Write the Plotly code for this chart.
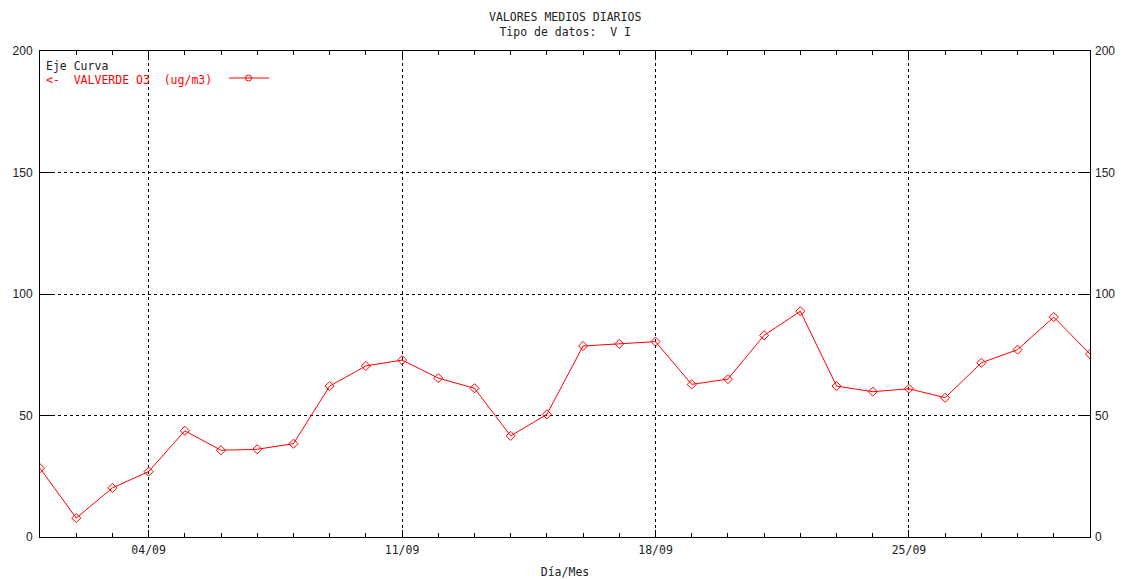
import plotly.graph_objects as go

days = list(range(1, 31))
o3_values = [28.3, 7.8, 20.2, 26.9, 43.7, 35.7, 36.1, 38.4, 62.1, 70.4,
             72.8, 65.4, 61.2, 41.6, 50.5, 78.6, 79.5, 80.4, 62.8, 65.0,
             83.0, 92.9, 62.1, 59.8, 61.0, 57.3, 71.7, 77.1, 90.5, 75.3]
x_tickvals = [4, 11, 18, 25]
x_ticktext = ["04/09", "11/09", "18/09", "25/09"]
y_tickvals = [0, 50, 100, 150, 200]

mono = "DejaVu Sans Mono"
sans = "Liberation Sans, Arial"

fig = go.Figure()
fig.add_trace(go.Scatter(
    x=days, y=o3_values, mode="lines+markers",
    line=dict(color="#ff0000", width=1),
    marker=dict(symbol="diamond-open", size=7, color="#ff0000", line=dict(width=1)),
    showlegend=False,
))
# invisible trace for right axis labels
fig.add_trace(go.Scatter(x=[days[0]], y=[0], yaxis="y2", mode="markers",
                         marker=dict(opacity=0), showlegend=False, hoverinfo="skip"))

fig.update_layout(
    width=1121, height=579,
    margin=dict(l=40, r=31, t=51, b=42, autoexpand=False),
    paper_bgcolor="white", plot_bgcolor="white",
    xaxis=dict(
        range=[1, 30], tickvals=x_tickvals, ticktext=x_ticktext,
        ticks="inside", ticklen=7, tickcolor="black", automargin=False,
        showline=True, linecolor="black", linewidth=1, mirror="ticks",
        showgrid=True, gridcolor="black", griddash="dot", gridwidth=1,
        zeroline=False, ticklabelstandoff=2,
        tickfont=dict(family=mono, size=11.5, color="#222"),
        minor=dict(dtick=1, tick0=1, ticks="inside", ticklen=4, tickcolor="black", showgrid=False),
        title=dict(text="Día/Mes", font=dict(family=mono, size=11.5, color="#222"), standoff=14),
    ),
    yaxis=dict(
        range=[0, 200], tickvals=y_tickvals, automargin=False,
        ticks="inside", ticklen=12, tickcolor="black",
        showline=True, linecolor="black", linewidth=1, mirror="ticks",
        showgrid=True, gridcolor="black", griddash="dot", gridwidth=1,
        zeroline=False, ticklabelstandoff=4,
        tickfont=dict(family=sans, size=12, color="#222"),
    ),
    yaxis2=dict(
        range=[0, 200], tickvals=y_tickvals, overlaying="y", side="right",
        ticks="", showgrid=False, zeroline=False, showline=False, automargin=False,
        ticklabelstandoff=4,
        tickfont=dict(family=sans, size=12, color="#222"),
    ),
)

fig.add_annotation(text="VALORES MEDIOS DIARIOS<br>Tipo de datos:  V I",
                   x=0.5, y=1, xref="paper", yref="paper", yanchor="bottom",
                   yshift=10, xshift=0, showarrow=False, align="center",
                   font=dict(family=mono, size=11.5, color="#222"))
fig.add_annotation(text="Eje Curva", x=0, y=1, xref="paper", yref="paper",
                   xanchor="left", yanchor="top", xshift=4, yshift=-6, showarrow=False,
                   font=dict(family=mono, size=11.5, color="#222"))
fig.add_annotation(text="<-  VALVERDE O3  (ug/m3)", x=0, y=1, xref="paper", yref="paper",
                   xanchor="left", yanchor="top", xshift=4, yshift=-20, showarrow=False,
                   font=dict(family=mono, size=11.5, color="#ff0000"))
# legend line sample
fig.add_shape(type="line", xref="paper", yref="paper",
              x0=(229 - 40) / 1050, x1=(269 - 40) / 1050,
              y0=(537 - 78) / 486, y1=(537 - 78) / 486,
              line=dict(color="#ff0000", width=1))
fig.add_shape(type="circle", xref="paper", yref="paper",
              x0=(245.5 - 40) / 1050, x1=(251.5 - 40) / 1050,
              y0=(537 - 81) / 486, y1=(537 - 75) / 486,
              line=dict(color="#ff0000", width=1))

fig.write_html("out.html", config={"displayModeBar": False},
               post_script="document.body.style.margin='0';document.body.style.overflow='hidden';")
